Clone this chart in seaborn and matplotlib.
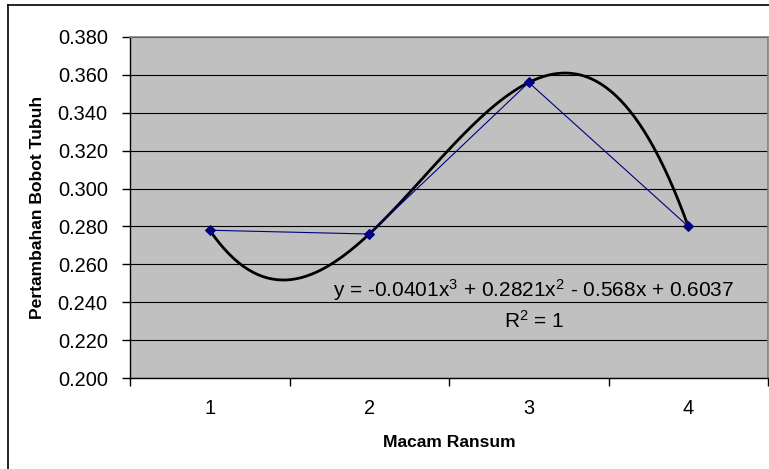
import matplotlib
matplotlib.use("Agg")
import matplotlib.pyplot as plt
import seaborn as sns
import numpy as np
import pandas as pd
from matplotlib.lines import Line2D
from matplotlib.ticker import FixedLocator, FuncFormatter

# ---- data ----
categories = ["1", "2", "3", "4"]
values = [0.278, 0.276, 0.356, 0.280]
y_ticks = [0.200, 0.220, 0.240, 0.260, 0.280, 0.300, 0.320, 0.340, 0.360, 0.380]
x_title = "Macam Ransum"
y_title = "Pertambahan Bobot Tubuh"
equation_text = r"y = -0.0401x$^3$ + 0.2821x$^2$ - 0.568x + 0.6037"
r2_text = r"R$^2$ = 1"

plt.rcParams["font.family"] = ["Liberation Sans", "DejaVu Sans"]
plt.rcParams["mathtext.fontset"] = "custom"
plt.rcParams["mathtext.rm"] = "Liberation Sans"
plt.rcParams["mathtext.it"] = "Liberation Sans"
plt.rcParams["mathtext.bf"] = "Liberation Sans:bold"

W, H = 769, 469
fig = plt.figure(figsize=(W / 100, H / 100), dpi=100)
fig.patch.set_facecolor("white")

L, R, T, B = 130, 768, 37, 378
ax = fig.add_axes([L / W, 1 - B / H, (R - L) / W, (B - T) / H])
ax.set_facecolor("#C0C0C0")

pos = np.arange(len(categories))
df = pd.DataFrame({"pos": pos, "val": values})

# polynomial (order 3) trendline
sns.regplot(data=df, x="pos", y="val", order=3, ci=None, scatter=False,
            truncate=True, ax=ax, line_kws=dict(color="black", lw=2.0, zorder=3))
# data series
sns.lineplot(data=df, x="pos", y="val", ax=ax, color="#000080", lw=0.8,
             marker="D", markersize=5, markeredgecolor="#000080",
             markerfacecolor="#000080", zorder=4)

ax.set_xlim(-0.5, len(categories) - 0.5)
ax.set_ylim(y_ticks[0], y_ticks[-1])

# y axis
ax.yaxis.set_major_locator(FixedLocator(y_ticks))
ax.yaxis.set_major_formatter(FuncFormatter(lambda v, p: f"{v:.3f}"))
ax.tick_params(axis="y", which="major", direction="out", length=6, width=1,
               color="black", labelsize=14.4, pad=10, labelcolor="black")
ax.yaxis.grid(True, color="black", lw=0.8)
ax.xaxis.grid(False)
ax.set_axisbelow(True)

# x axis: ticks at category boundaries, labels at centres
ax.xaxis.set_major_locator(FixedLocator(np.arange(-0.5, len(categories), 1.0)))
ax.xaxis.set_major_formatter(FuncFormatter(lambda v, p: ""))
ax.xaxis.set_minor_locator(FixedLocator(pos))
ax.xaxis.set_minor_formatter(FuncFormatter(lambda v, p: categories[int(round(v))]))
ax.tick_params(axis="x", which="major", direction="out", length=6, width=1, color="black")
ax.tick_params(axis="x", which="minor", length=0, labelsize=14.4, pad=15)

for s in ["top", "right"]:
    ax.spines[s].set_color("#808080")
    ax.spines[s].set_linewidth(1.2)
for s in ["left", "bottom"]:
    ax.spines[s].set_color("black")
    ax.spines[s].set_linewidth(1.0)

ax.set_xlabel(x_title, fontsize=12.6, fontweight="bold")
ax.xaxis.label.set_va("baseline")
ax.xaxis.set_label_coords(0.5, -(447 - B) / (B - T))
ax.set_ylabel(y_title, fontsize=12.6, fontweight="bold")
ax.yaxis.label.set_va("center")
ax.yaxis.set_label_coords((38 - L) / (R - L), 0.5)

# trendline annotation
ax.text(2.031, 0.2428, equation_text, fontsize=15, ha="center", va="baseline", zorder=5)
ax.text(2.031, 0.2264, r2_text, fontsize=15, ha="center", va="baseline", zorder=5)

# chart-area border (left and top visible in the crop)
fig.add_artist(Line2D([7.5 / W, 7.5 / W], [0, 1 - 5.5 / H], color="black", lw=1.2,
                      transform=fig.transFigure))
fig.add_artist(Line2D([7.5 / W, 1], [1 - 5.5 / H, 1 - 5.5 / H], color="black", lw=1.2,
                      transform=fig.transFigure))

fig.savefig("out.png", dpi=100)
